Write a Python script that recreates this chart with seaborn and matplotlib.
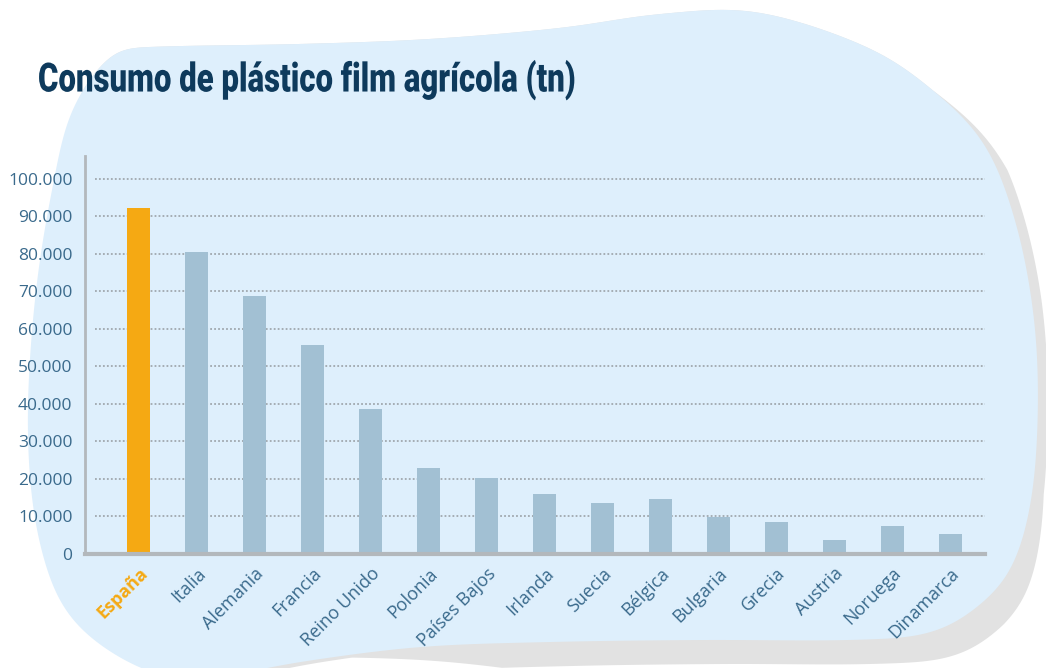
import numpy as np
import pandas as pd
import matplotlib
matplotlib.use("Agg")
import matplotlib.pyplot as plt
import seaborn as sns
from matplotlib.patches import Polygon
import matplotlib.transforms as mtransforms
from matplotlib import patheffects

# ---- data ----
countries = ["España", "Italia", "Alemania", "Francia", "Reino Unido", "Polonia",
             "Países Bajos", "Irlanda", "Suecia", "Bélgica", "Bulgaria", "Grecia",
             "Austria", "Noruega", "Dinamarca"]
values = [92200, 80300, 68600, 55600, 38600, 22800, 20200, 16100, 13500, 14600,
          9900, 8400, 3700, 7400, 5300]
yticks = [0, 10000, 20000, 30000, 40000, 50000, 60000, 70000, 80000, 90000, 100000]
ytick_labels = ["0", "10.000", "20.000", "30.000", "40.000", "50.000", "60.000",
                "70.000", "80.000", "90.000", "100.000"]
title = "Consumo de plástico film agrícola (tn)"
highlight = "España"

ORANGE = "#F5A913"
BLUE = "#A2C0D3"
TICK = "#3A6A8C"
BLOB = "#DEEFFC"
SHADOW = "#E2E2E2"

sns.set_theme(style="white")
plt.rcParams["font.family"] = ["Open Sans", "DejaVu Sans"]

fig = plt.figure(figsize=(10.46, 6.68), dpi=100)
fig.patch.set_facecolor("white")

# ---- decorative background blob ----
bg = fig.add_axes([0, 0, 1, 1], zorder=-5)
bg.set_xlim(0, 1046)
bg.set_ylim(668, 0)
bg.axis("off")

def catmull(pts, n=40):
    P = np.array(pts, dtype=float)
    N = len(P)
    out = []
    t = np.linspace(0, 1, n, endpoint=False)[:, None]
    for i in range(N):
        p0, p1, p2, p3 = P[i - 1], P[i], P[(i + 1) % N], P[(i + 2) % N]
        out.append(0.5 * ((2 * p1) + (-p0 + p2) * t + (2 * p0 - 5 * p1 + 4 * p2 - p3) * t ** 2
                          + (-p0 + 3 * p1 - 3 * p2 + p3) * t ** 3))
    return np.vstack(out)

def smooth_closed(curve, n=2400, sigma=12):
    seg = np.r_[0, np.cumsum(np.hypot(*np.diff(np.vstack([curve, curve[:1]]), axis=0).T))]
    s = np.linspace(0, seg[-1], n, endpoint=False)
    closed = np.vstack([curve, curve[:1]])
    x = np.interp(s, seg, closed[:, 0])
    y = np.interp(s, seg, closed[:, 1])
    k = np.arange(-4 * sigma, 4 * sigma + 1)
    g = np.exp(-0.5 * (k / sigma) ** 2)
    g /= g.sum()
    def circ(v):
        vv = np.r_[v[-len(k):], v, v[:len(k)]]
        return np.convolve(vv, g, mode="same")[len(k):-len(k)]
    return np.column_stack([circ(x), circ(y)])

blob_pts = [(112, 54), (150, 47), (300, 44), (430, 39), (560, 28), (660, 14), (757, 12),
            (867, 47), (935, 92), (985, 145), (1015, 220), (1033, 310),
            (1038, 400), (1032, 495), (1013, 565), (980, 605), (930, 633), (850, 640),
            (700, 640), (550, 642), (420, 647), (300, 662), (200, 680), (150, 672),
            (100, 645), (65, 610), (44, 560), (31, 490), (28, 400), (36, 290),
            (52, 190), (72, 110)]
curve = smooth_closed(catmull(blob_pts))
shadow_curve = curve.copy()
xs, ys = curve[:, 0], curve[:, 1]
shadow_curve[:, 0] = xs + 10 * np.clip((ys - 90) / 80, 0, 1) + 12 * np.clip((ys - 480) / 160, 0, 1)
shadow_curve[:, 1] = ys + 24 * np.clip((ys - 300) / 300, 0, 1) * np.clip((xs - 330) / 150, 0, 1)
bg.add_patch(Polygon(shadow_curve, closed=True, facecolor=SHADOW, edgecolor="none"))
bg.add_patch(Polygon(curve, closed=True, facecolor=BLOB, edgecolor="none"))

# ---- bar chart ----
ax = fig.add_axes([85 / 1046, 1 - 554 / 668, 900 / 1046, (554 - 156) / 668])
ax.set_facecolor("none")
df = pd.DataFrame({"country": countries, "value": values})
palette = {c: (ORANGE if c == highlight else BLUE) for c in countries}
sns.barplot(data=df, x="country", y="value", hue="country", palette=palette,
            width=0.4, legend=False, ax=ax, saturation=1, linewidth=0)

ax.set_xlim(-0.93, 14.6)
ax.set_ylim(0, 106000)
ax.set_xlabel("")
ax.set_ylabel("")

# dotted gridlines
trans = mtransforms.blended_transform_factory(ax.transAxes, ax.transData)
ax.hlines(yticks[1:], 0.011, 1.002, transform=trans, colors="#A0A8AE",
          linestyles=(0, (1, 1.2)), linewidth=1.3, zorder=0.5)

for s in ["top", "right"]:
    ax.spines[s].set_visible(False)
ax.spines["left"].set_color("#B3B8BC")
ax.spines["left"].set_linewidth(2)
ax.spines["bottom"].set_color("#B3B8BC")
ax.spines["bottom"].set_linewidth(3)

ax.set_yticks(yticks)
ax.set_yticklabels(ytick_labels)
ax.tick_params(axis="y", length=0, pad=9, labelsize=12.5, labelcolor=TICK)
ax.tick_params(axis="x", length=0, pad=7.5, labelsize=13, labelcolor=TICK)
ax.set_xticks(range(len(countries)))
ax.set_xticklabels(countries, rotation=45, ha="right", va="top", rotation_mode="anchor")
for lbl in ax.get_xticklabels():
    if lbl.get_text() == highlight:
        lbl.set_color(ORANGE)
        lbl.set_fontweight("bold")

# ---- title (condensed heavy look via horizontal stretch of the text rendering) ----
class StretchX(patheffects.AbstractPathEffect):
    def __init__(self, sx, x0):
        super().__init__()
        self.sx = sx
        self.x0 = x0

    def draw_path(self, renderer, gc, tpath, affine, rgbFace=None):
        aff = affine + mtransforms.Affine2D().translate(-self.x0, 0).scale(self.sx, 1).translate(self.x0, 0)
        renderer.draw_path(gc, tpath, aff, rgbFace)

title_x, title_right = 38, 575
t = fig.text(title_x / 1046, 1 - 80 / 668, title, fontsize=29, fontweight="black",
             color="#0E3A5C", family=["Roboto", "DejaVu Sans"], ha="left", va="center")
fig.canvas.draw()
w = t.get_window_extent().width
t.set_path_effects([StretchX((title_right - title_x) / w, title_x)])

fig.savefig("out.png", dpi=100)
